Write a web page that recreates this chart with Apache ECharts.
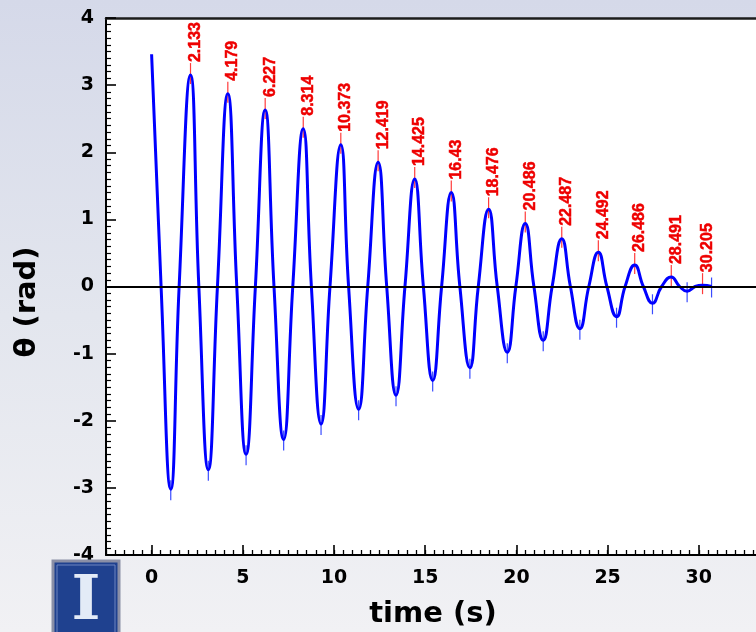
<!DOCTYPE html>
<html>
<head>
<meta charset="utf-8">
<script src="https://cdn.jsdelivr.net/npm/echarts@6/dist/echarts.min.js"></script>
<style>
html,body{margin:0;padding:0;}
#chart{width:756px;height:632px;}
</style>
</head>
<body>
<div id="chart"></div>
<script>
// ---- data ----
// curve key points: peaks, zero crossings, troughs (time in s, theta in rad)
const times = [0.00, 0.52, 1.05, 1.51, 2.133, 2.59, 3.11, 3.61, 4.179, 4.67, 5.18, 5.69, 6.227, 6.71, 7.24, 7.74,
  8.314, 8.76, 9.29, 9.78, 10.373, 10.80, 11.35, 11.85, 12.419, 12.89, 13.40, 13.89, 14.425, 14.90, 15.41, 15.90,
  16.43, 16.90, 17.45, 17.91, 18.476, 18.95, 19.50, 19.97, 20.486, 20.96, 21.47, 21.96, 22.487, 22.96, 23.48, 23.97,
  24.492, 24.96, 25.49, 25.96, 26.486, 26.96, 27.46, 27.96, 28.491, 28.95, 29.36, 29.80, 30.205, 30.70];
const theta = [3.46, 0, -3.02, 0, 3.15, 0, -2.73, 0, 2.87, 0, -2.50, 0, 2.63, 0, -2.28, 0,
  2.35, 0, -2.05, 0, 2.11, 0, -1.83, 0, 1.85, 0, -1.62, 0, 1.60, 0, -1.40, 0,
  1.40, 0, -1.21, 0, 1.15, 0, -0.98, 0, 0.94, 0, -0.80, 0, 0.71, 0, -0.63, 0,
  0.51, 0, -0.45, 0, 0.32, 0, -0.25, 0, 0.14, 0, -0.07, 0, 0.02, 0.00];

const peakTimes = [2.133, 4.179, 6.227, 8.314, 10.373, 12.419, 14.425, 16.43, 18.476, 20.486, 22.487, 24.492, 26.486, 28.491, 30.205];
const peakTheta = [3.15, 2.87, 2.63, 2.35, 2.11, 1.85, 1.60, 1.40, 1.15, 0.94, 0.71, 0.51, 0.32, 0.14, 0.02];
const peakLabels = ["2.133", "4.179", "6.227", "8.314", "10.373", "12.419", "14.425", "16.43", "18.476", "20.486", "22.487", "24.492", "26.486", "28.491", "30.205"];

const troughTimes = [1.05, 3.11, 5.18, 7.24, 9.29, 11.35, 13.40, 15.41, 17.45, 19.50, 21.47, 23.48, 25.49, 27.46, 29.36, 30.70];
const troughTheta = [-3.02, -2.73, -2.50, -2.28, -2.05, -1.83, -1.62, -1.40, -1.21, -0.98, -0.80, -0.63, -0.45, -0.25, -0.07, 0.00];

const xTickValues = [0, 5, 10, 15, 20, 25, 30, 35];
const xTitle = "time (s)";
const yTitle = "θ (rad)";

// ---- chart ----
const chart = echarts.init(document.getElementById('chart'), null, {renderer: 'canvas'});

const tickFont = {fontFamily: '"DejaVu Sans", sans-serif', fontWeight: 'bold', fontSize: 19, color: '#000'};
const titleFont = {fontFamily: '"DejaVu Sans", sans-serif', fontWeight: 'bold', fontSize: 29, color: '#000'};

const xBase = {type: 'value', min: -2.5, max: 35, interval: 0.5, gridIndex: 0, splitLine: {show: false}};

const option = {
  animation: false,
  backgroundColor: new echarts.graphic.LinearGradient(0, 0, 0, 1, [
    {offset: 0, color: '#d5d9e9'},
    {offset: 0.5, color: '#e3e6ee'},
    {offset: 1, color: '#f1f1f4'}
  ]),
  grid: {left: 106, top: 18, width: 684, height: 537, show: true, backgroundColor: '#ffffff', borderWidth: 0,
    containLabel: false, outerBoundsMode: 'none'},
  xAxis: [
    Object.assign({}, xBase, {
      position: 'bottom',
      axisLine: {show: true, onZero: false, lineStyle: {color: '#000', width: 2}},
      axisTick: {show: true, inside: true, length: 5, lineStyle: {color: '#000', width: 1.3}},
      axisLabel: Object.assign({show: true, margin: 14, customValues: xTickValues}, tickFont),
      name: xTitle, nameLocation: 'middle', nameGap: 45,
      nameTextStyle: Object.assign({padding: [0, 30, 0, 0]}, titleFont)
    }),
    Object.assign({}, xBase, {
      position: 'bottom',
      axisLine: {show: false, onZero: false},
      axisTick: {show: true, inside: true, length: 10, customValues: xTickValues, lineStyle: {color: '#000', width: 1.6}},
      axisLabel: {show: false}
    }),
    Object.assign({}, xBase, {
      position: 'top',
      axisLine: {show: true, onZero: false, lineStyle: {color: '#1c1c1c', width: 2.5}},
      axisTick: {show: false},
      axisLabel: {show: false}
    })
  ],
  yAxis: {
    type: 'value', min: -4, max: 4, interval: 1,
    axisLine: {show: true, onZero: false, lineStyle: {color: '#000', width: 2}},
    axisTick: {show: true, inside: true, length: 10, lineStyle: {color: '#000', width: 1.6}},
    minorTick: {show: true, splitNumber: 10, length: 5, lineStyle: {color: '#000', width: 1.2}},
    splitLine: {show: false},
    axisLabel: Object.assign({margin: 12}, tickFont),
    name: yTitle, nameLocation: 'middle', nameGap: 64, nameRotate: 90,
    nameTextStyle: Object.assign({padding: [0, 31, 0, 0]}, titleFont)
  },
  series: [
    {
      type: 'custom', xAxisIndex: 0, yAxisIndex: 0, z: 2,
      encode: {x: 0, y: 1},
      data: troughTimes.map((t, i) => [t, troughTheta[i]]),
      renderItem: function (params, api) {
        const p = api.coord([api.value(0), api.value(1)]);
        return {type: 'line', shape: {x1: p[0], y1: p[1] - 9, x2: p[0], y2: p[1] + 11},
          style: {stroke: '#3a4cff', lineWidth: 1.2}};
      }
    },
    {
      type: 'custom', xAxisIndex: 0, yAxisIndex: 0, z: 2,
      encode: {x: 0, y: 1},
      data: peakTimes.map((t, i) => [t, peakTheta[i]]),
      renderItem: function (params, api) {
        const p = api.coord([api.value(0), api.value(1)]);
        return {type: 'group', children: [
          {type: 'line', shape: {x1: p[0], y1: p[1] - 12, x2: p[0], y2: p[1] + 9},
            style: {stroke: '#ff3b3b', lineWidth: 1.2}},
          {type: 'text', x: p[0] + 5, y: p[1] - 13, rotation: Math.PI / 2,
            style: {text: peakLabels[params.dataIndex], fill: '#ee0000',
              stroke: '#ee0000', lineWidth: 0.5,
              fontFamily: '"Liberation Sans", Arial, sans-serif', fontWeight: 'bold', fontSize: 16,
              align: 'left', verticalAlign: 'middle'}}
        ]};
      }
    },
    {
      type: 'line', xAxisIndex: 0, yAxisIndex: 0, z: 3,
      data: times.map((t, i) => [t, theta[i]]),
      smooth: 0.5,
      showSymbol: false,
      lineStyle: {color: '#0000ff', width: 3},
      itemStyle: {color: '#0000ff'},
      markLine: {
        silent: true, symbol: ['none', 'none'], label: {show: false},
        lineStyle: {color: '#000', width: 2, type: 'solid'},
        data: [{yAxis: 0}]
      }
    }
  ],
  graphic: [
    {type: 'rect', shape: {x: 53, y: 561, width: 66, height: 80},
      style: {fill: '#1f418f', stroke: '#8a8fa6', lineWidth: 3}, z: 10},
    {type: 'rect', shape: {x: 57, y: 565, width: 58, height: 72},
      style: {fill: 'none', stroke: '#6f86c0', lineWidth: 1}, z: 10},
    {type: 'text', x: 86, y: 572,
      style: {text: 'I', fill: '#e3ebf7', fontFamily: '"DejaVu Serif", serif', fontWeight: 'bold', fontSize: 62,
        align: 'center', verticalAlign: 'top'}, z: 11}
  ]
};

chart.setOption(option);
</script>
</body>
</html>
